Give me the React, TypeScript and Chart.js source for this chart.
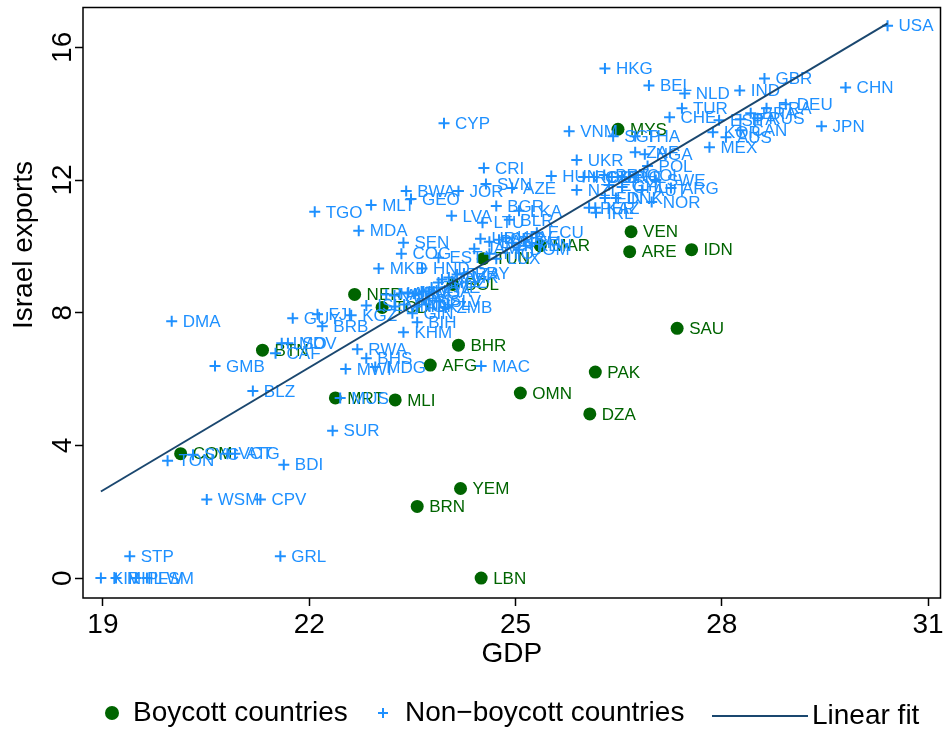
import React, { useEffect, useRef } from "react";
import Chart from "chart.js/auto";

const FONT = "'Liberation Sans', Arial, Helvetica, sans-serif";
const GREEN = "#006400";
const BLUE = "#1e90ff";
const NAVY = "#1a476f";

const xTicks = [19, 22, 25, 28, 31];
const yTicks = [0, 4, 8, 12, 16];

const boycottCountries = ["MYS", "VEN", "ARE", "IDN", "SAU", "PAK", "OMN", "DZA", "BHR", "AFG", "MLI", "MRT", "YEM", "BRN", "LBN", "COM", "BTN", "NER", "TCD", "BOL", "TUN", "MAR"];
const boycottGdp = [26.49, 26.68, 26.66, 27.56, 27.35, 26.16, 25.07, 26.08, 24.17, 23.76, 23.25, 22.38, 24.2, 23.57, 24.5, 20.13, 21.32, 22.66, 23.06, 24.09, 24.53, 25.36];
const boycottExports = [13.53, 10.44, 9.84, 9.9, 7.53, 6.21, 5.58, 4.95, 7.02, 6.42, 5.37, 5.43, 2.7, 2.16, 0.0, 3.75, 6.87, 8.55, 8.16, 8.85, 9.63, 10.02];

const otherCountries = [
  "USA", "HKG", "BEL", "NLD", "IND", "GBR", "CHN", "DEU", "FRA", "RUS", "ITA", "BRA", "ESP", "TUR", "CHE", "KOR", "CAN", "AUS", "MEX", "JPN",
  "VNM", "SGP", "THA", "ZAF", "NGA", "POL", "UKR", "HUN", "ROU", "CZE", "PRT", "GRC", "PHL", "COL", "NZL", "EGY", "CHL", "AUT", "SWE", "ARG",
  "FIN", "DNK", "NOR", "KAZ", "PER", "IRL", "CYP", "CRI", "SVN", "AZE", "BGR", "LKA", "LVA", "LTU", "BLR", "ECU", "JOR", "BWA", "GEO", "MLT",
  "TGO", "MDA", "SEN", "COG", "EST", "MKD", "HND", "URY", "PAN", "SRB", "HRV", "GTM", "DOM", "KEN", "LUX", "JAM", "TTO", "CIV", "CMR", "TZA",
  "PRY", "NAM", "ALB", "ARM", "NIC", "LAO", "UGA", "ZWE", "MOZ", "ISL", "MNG", "PNG", "TJK", "NPL", "SLV", "ZMB", "GIN", "BIH", "KHM", "MAC",
  "GUY", "FJI", "BRB", "KGZ", "LSO", "MDV", "CAF", "RWA", "BHS", "MWI", "MDG", "MUS", "SUR", "BDI", "ATG", "VCT", "SYC", "TON", "WSM", "CPV",
  "STP", "GRL", "KIR", "MHL", "PLW", "FSM", "DMA", "GMB", "BLZ",
];
const otherGdp = [
  30.41, 26.3, 26.94, 27.46, 28.26, 28.62, 29.8, 28.93, 28.65, 28.52, 28.27, 28.42, 27.96, 27.42, 27.24, 27.87, 28.27, 28.06, 27.82, 29.45,
  25.78, 26.42, 26.74, 26.74, 26.88, 26.92, 25.89, 25.52, 25.99, 26.14, 26.29, 26.4, 26.55, 26.75, 25.89, 26.36, 26.55, 26.84, 27.04, 27.26,
  26.3, 26.46, 26.98, 26.16, 26.07, 26.17, 23.96, 24.54, 24.57, 24.95, 24.72, 25.05, 24.07, 24.52, 24.91, 25.31, 24.17, 23.41, 23.48, 22.9,
  22.08, 22.72, 23.37, 23.34, 23.88, 23.01, 23.64, 24.49, 24.62, 24.76, 24.86, 24.95, 25.05, 25.15, 24.72, 24.4, 24.62, 23.93, 24.03, 24.15,
  24.25, 23.12, 23.24, 23.34, 23.44, 23.54, 23.66, 23.78, 23.88, 22.83, 23.24, 23.38, 23.56, 23.7, 23.89, 23.98, 23.5, 23.57, 23.37, 24.5,
  21.76, 22.12, 22.19, 22.61, 21.6, 21.69, 21.51, 22.7, 22.83, 22.53, 22.96, 22.45, 22.34, 21.63, 20.92, 20.81, 20.31, 19.94, 20.51, 21.29,
  19.39, 21.58, 18.97, 19.19, 19.48, 19.64, 20.0, 20.63, 21.18,
];
const otherExports = [
  16.65, 15.36, 14.85, 14.61, 14.7, 15.06, 14.79, 14.28, 14.16, 13.86, 13.83, 14.01, 13.8, 14.16, 13.89, 13.44, 13.5, 13.29, 12.99, 13.62,
  13.47, 13.32, 13.32, 12.84, 12.78, 12.42, 12.6, 12.12, 12.09, 12.09, 12.15, 12.09, 12.09, 12.15, 11.7, 11.85, 11.79, 11.7, 12.0, 11.76,
  11.46, 11.46, 11.34, 11.16, 11.16, 11.01, 13.71, 12.36, 11.88, 11.76, 11.22, 11.07, 10.92, 10.71, 10.8, 10.41, 11.67, 11.67, 11.43, 11.25,
  11.04, 10.47, 10.11, 9.78, 9.66, 9.33, 9.33, 10.23, 10.14, 10.2, 10.26, 10.11, 9.9, 10.02, 9.63, 9.93, 9.78, 9.0, 9.06, 9.15,
  9.18, 8.55, 8.52, 8.58, 8.61, 8.58, 8.64, 8.76, 8.91, 8.22, 8.19, 8.25, 8.19, 8.25, 8.34, 8.16, 7.98, 7.71, 7.41, 6.39,
  7.83, 7.95, 7.59, 7.92, 7.08, 7.08, 6.78, 6.9, 6.63, 6.3, 6.36, 5.43, 4.44, 3.42, 3.75, 3.75, 3.72, 3.54, 2.37, 2.37,
  0.66, 0.66, 0, 0, 0, 0, 7.74, 6.39, 5.64,
];

const fitGdp = [18.97, 30.41];
const fitExports = [2.61, 16.72];

const labelPlugin = {
  id: "pointLabels",
  afterDatasetDraw(chart: any, args: any) {
    const ds = chart.data.datasets[args.index];
    if (!ds.pointLabels) return;
    const ctx = chart.ctx;
    ctx.save();
    ctx.font = `17px ${FONT}`;
    ctx.fillStyle = ds.labelColor;
    ctx.textAlign = "left";
    ctx.textBaseline = "middle";
    args.meta.data.forEach((el: any, i: number) => {
      ctx.fillText(ds.pointLabels[i], el.x + ds.labelOffset, el.y + 1);
    });
    ctx.restore();
  },
};

const decorPlugin = {
  id: "decor",
  afterDraw(chart: any) {
    const { ctx, chartArea: a, scales } = chart;
    ctx.save();
    ctx.strokeStyle = "#000";
    ctx.lineWidth = 1.5;
    ctx.strokeRect(a.left, a.top, a.right - a.left, a.bottom - a.top);

    ctx.fillStyle = "#000";
    ctx.font = `28px ${FONT}`;
    ctx.textAlign = "center";
    ctx.textBaseline = "middle";
    yTicks.forEach((v) => {
      const py = scales.y.getPixelForValue(v);
      ctx.save();
      ctx.translate(63, py);
      ctx.rotate(-Math.PI / 2);
      ctx.fillText(String(v), 0, 0);
      ctx.restore();
    });

    ctx.save();
    ctx.translate(24, 245);
    ctx.rotate(-Math.PI / 2);
    ctx.fillText("Israel exports", 0, 0);
    ctx.restore();

    ctx.fillText("GDP", (a.left + a.right) / 2, 654);

    // legend
    const ly = 713;
    ctx.textAlign = "left";
    ctx.fillStyle = GREEN;
    ctx.beginPath();
    ctx.arc(112, ly, 7, 0, Math.PI * 2);
    ctx.fill();
    ctx.fillStyle = "#000";
    ctx.fillText("Boycott countries", 133, ly);

    ctx.strokeStyle = BLUE;
    ctx.lineWidth = 2;
    ctx.beginPath();
    ctx.moveTo(378, ly);
    ctx.lineTo(388, ly);
    ctx.moveTo(383, ly - 5);
    ctx.lineTo(383, ly + 5);
    ctx.stroke();
    ctx.fillText("Non\u2212boycott countries", 405, ly);

    ctx.strokeStyle = NAVY;
    ctx.lineWidth = 2;
    ctx.beginPath();
    ctx.moveTo(712, ly + 3);
    ctx.lineTo(808, ly + 3);
    ctx.stroke();
    ctx.fillText("Linear fit", 812, ly + 3);
    ctx.restore();
  },
};

export default function App() {
  const ref = useRef<HTMLCanvasElement>(null);
  useEffect(() => {
    document.body.style.margin = "0";
    const chart = new Chart(ref.current as HTMLCanvasElement, {
      type: "scatter",
      data: {
        datasets: [
          {
            label: "Boycott countries",
            data: boycottGdp.map((x, i) => ({ x, y: boycottExports[i] })),
            pointStyle: "circle",
            pointRadius: 6.5,
            pointBackgroundColor: GREEN,
            pointBorderWidth: 0,
            order: 3,
            pointLabels: boycottCountries,
            labelColor: GREEN,
            labelOffset: 12,
          } as any,
          {
            label: "Non-boycott countries",
            data: otherGdp.map((x, i) => ({ x, y: otherExports[i] })),
            pointStyle: "cross",
            pointRadius: 5.5,
            pointBorderColor: BLUE,
            pointBorderWidth: 2,
            order: 2,
            pointLabels: otherCountries,
            labelColor: BLUE,
            labelOffset: 11,
          } as any,
          {
            label: "Linear fit",
            data: fitGdp.map((x, i) => ({ x, y: fitExports[i] })),
            showLine: true,
            borderColor: NAVY,
            borderWidth: 2,
            pointRadius: 0,
            order: 1,
          } as any,
        ],
      },
      options: {
        animation: false,
        responsive: false,
        events: [],
        layout: { padding: { top: 5, right: 6, left: 0, bottom: 0 } },
        plugins: { legend: { display: false }, tooltip: { enabled: false } },
        scales: {
          x: {
            type: "linear",
            min: 18.71,
            max: 31.18,
            afterBuildTicks: (s: any) => {
              s.ticks = xTicks.map((v) => ({ value: v }));
            },
            afterFit: (s: any) => {
              s.height = 134;
            },
            border: { display: false },
            grid: { display: true, drawOnChartArea: false, drawTicks: true, tickLength: 8, tickColor: "#000", tickWidth: 1.5 },
            ticks: { color: "#000", font: { family: FONT, size: 28 }, padding: 2, maxRotation: 0, callback: (v: any) => String(v) },
          },
          y: {
            type: "linear",
            min: -0.6,
            max: 17.2,
            afterBuildTicks: (s: any) => {
              s.ticks = yTicks.map((v) => ({ value: v }));
            },
            afterFit: (s: any) => {
              s.width = 83;
            },
            border: { display: false },
            grid: { display: true, drawOnChartArea: false, drawTicks: true, tickLength: 8, tickColor: "#000", tickWidth: 1.5 },
            ticks: { color: "rgba(0,0,0,0)", font: { family: FONT, size: 1 }, padding: 0 },
          },
        },
      },
      plugins: [labelPlugin, decorPlugin],
    } as any);
    return () => chart.destroy();
  }, []);
  return (
    <div style={{ width: 948, height: 732 }}>
      <canvas ref={ref} width={948} height={732} style={{ display: "block", width: 948, height: 732 }} />
    </div>
  );
}
